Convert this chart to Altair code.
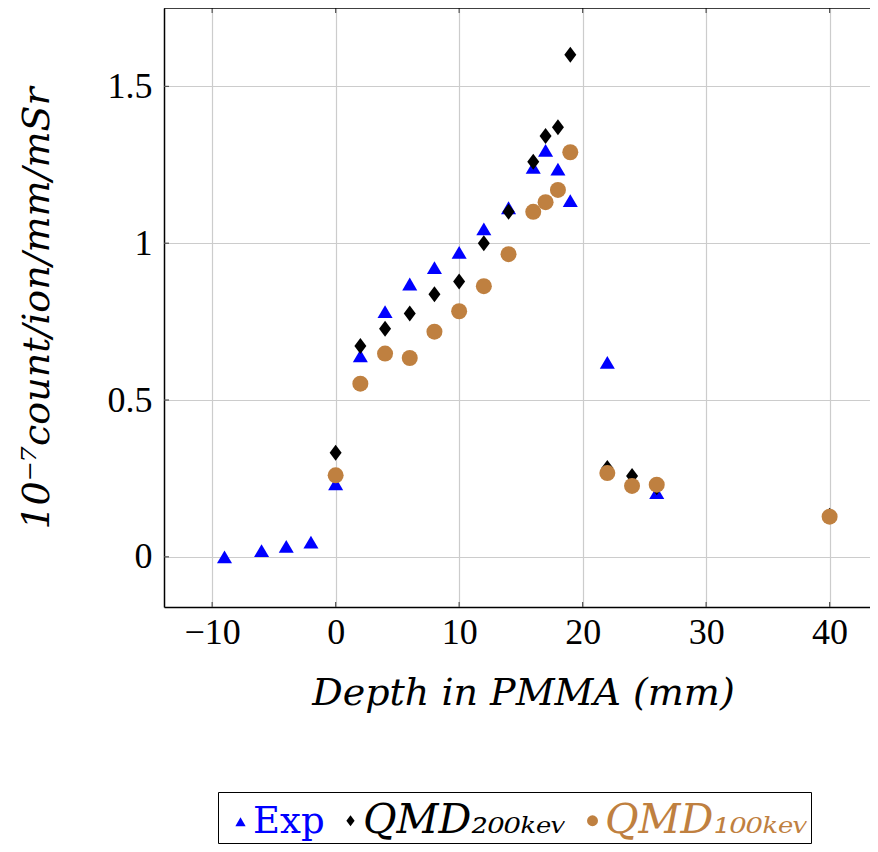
import altair as alt
import pandas as pd

# ---- data ----
series_names = ["Exp", "QMD200", "QMD100"]
series_colors = ["#0000ff", "#000000", "#bf8040"]

exp_x = [-9, -6, -4, -2, 0, 2, 4, 6, 8, 10, 12, 14, 16, 17, 18, 19, 22, 26]
exp_y = [0.00, 0.02, 0.033, 0.047, 0.233, 0.641, 0.782, 0.870, 0.922, 0.971,
         1.046, 1.113, 1.242, 1.296, 1.236, 1.136, 0.620, 0.205]

qmd200_x = [0, 2, 4, 6, 8, 10, 12, 14, 16, 17, 18, 19, 22, 24, 26, 40]
qmd200_y = [0.332, 0.672, 0.727, 0.776, 0.837, 0.878, 1.000, 1.100, 1.260,
            1.342, 1.370, 1.601, 0.283, 0.258, 0.222, 0.131]

qmd100_x = [0, 2, 4, 6, 8, 10, 12, 14, 16, 17, 18, 19, 22, 24, 26, 40]
qmd100_y = [0.260, 0.552, 0.648, 0.634, 0.718, 0.783, 0.863, 0.965, 1.100,
            1.131, 1.170, 1.290, 0.267, 0.226, 0.230, 0.128]

x_ticks = [-10, 0, 10, 20, 30, 40]
y_ticks = [0, 0.5, 1, 1.5]

x_title = "Depth in PMMA (mm)"
y_title = "10⁻⁷count/ion/mm/mSr"

# ---- build table ----
rows = []
for name, xs, ys in [("Exp", exp_x, exp_y), ("QMD200", qmd200_x, qmd200_y),
                     ("QMD100", qmd100_x, qmd100_y)]:
    for a, b in zip(xs, ys):
        rows.append({"series": name, "x": a, "y": b})
df = pd.DataFrame(rows)

W, H = 706, 599
FONT = "Liberation Serif"
IFONT = "DejaVu Serif"
FS = 36
TFS = 38

TRI = "M0,-0.8L0.94,0.8L-0.94,0.8Z"
DIA = "M0,-1L0.75,0L0,1L-0.75,0Z"

xscale = alt.Scale(domain=[-13.9, 43.27], nice=False, zero=False)
yscale = alt.Scale(domain=[-0.16, 1.75], nice=False, zero=False)

legend = alt.Legend(
    orient="none", legendX=54, legendY=784, direction="horizontal",
    title=" ", titleFontSize=2, titlePadding=4,
    strokeColor="black", fillColor="white", padding=2, cornerRadius=0,
    symbolSize=120, symbolStrokeWidth=0, symbolOpacity=1,
    labelFont=IFONT, labelLimit=500, labelOffset={"expr": "-8"},
    columnPadding=5,
    labelExpr="datum.value == 'Exp' ? 'Exp' : datum.value == 'QMD200' ? 'QMD₂₀₀ₖₑᵥ' : 'QMD₁₀₀ₖₑᵥ'",
    labelColor={"expr": "datum.value == 'Exp' ? '#0000ff' : datum.value == 'QMD200' ? '#000000' : '#bf8040'"},
    labelFontStyle={"expr": "datum.value == 'Exp' ? 'normal' : 'italic'"},
    labelFontSize={"expr": "datum.value == 'Exp' ? 37 : 41"},
)

x_axis = alt.Axis(values=x_ticks, title=x_title, titleX=359, titleY=86,
                  titleBaseline="middle", titleAlign="center", titleFontStyle="italic",
                  titleFont=IFONT, titleFontSize=TFS)
y_axis = alt.Axis(values=y_ticks, format="~g", title=y_title, titleX=-127,
                  titleY=300, titleBaseline="middle", titleAlign="center",
                  titleFontStyle="italic", titleFont=IFONT, titleFontSize=TFS)

points = alt.Chart(df).mark_point(filled=True, opacity=1, size=256, strokeWidth=0).encode(
    x=alt.X("x:Q", scale=xscale, axis=x_axis),
    y=alt.Y("y:Q", scale=yscale, axis=y_axis),
    color=alt.Color("series:N", scale=alt.Scale(domain=series_names, range=series_colors),
                    legend=legend),
    shape=alt.Shape("series:N", scale=alt.Scale(domain=series_names, range=[TRI, DIA, "circle"]),
                    legend=legend),
)

xt_df = pd.DataFrame({"x": x_ticks})
yt_df = pd.DataFrame({"y": y_ticks})
one = pd.DataFrame({"x": [0]})

tick_color = "#555555"
xt_bottom = alt.Chart(xt_df).mark_rule(color=tick_color, strokeWidth=1.2).encode(
    x=alt.X("x:Q", scale=xscale, axis=x_axis), y=alt.value(H - 5), y2=alt.value(H))
xt_top = alt.Chart(xt_df).mark_rule(color=tick_color, strokeWidth=1.2).encode(
    x=alt.X("x:Q", scale=xscale, axis=x_axis), y=alt.value(0), y2=alt.value(5))
yt_left = alt.Chart(yt_df).mark_rule(color=tick_color, strokeWidth=1.2).encode(
    y=alt.Y("y:Q", scale=yscale, axis=y_axis), x=alt.value(0), x2=alt.value(5))
top_spine = alt.Chart(one).mark_rule(color="black", strokeWidth=1.5).encode(
    x=alt.value(0), x2=alt.value(W), y=alt.value(0))

chart = alt.layer(points, xt_bottom, xt_top, yt_left, top_spine).properties(
    width=W, height=H,
    autosize=alt.AutoSizeParams(type="none"),
    padding={"left": 156, "top": 0, "right": 0, "bottom": 245},
).configure_view(stroke=None).configure_axis(
    domainColor="black", domainWidth=1.5, grid=True, gridColor="#cccccc", gridWidth=1.2,
    ticks=False, labelFont=FONT, labelFontSize=FS, labelColor="black", labelPadding=10,
    titleColor="black", titleFontWeight="normal",
).configure_axisX(labelPadding=8).configure_axisY(labelPadding=12)

chart.save("out.html", embed_options={"renderer": "svg", "actions": False})
